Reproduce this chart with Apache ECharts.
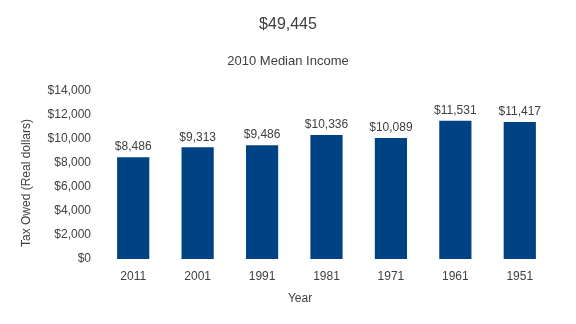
<!DOCTYPE html>
<html>
<head>
<meta charset="utf-8">
<script src="https://cdn.jsdelivr.net/npm/echarts@6/dist/echarts.min.js"></script>
<style>
  html, body { margin: 0; padding: 0; background: #fff; }
  #chart { width: 576px; height: 324px; }
</style>
</head>
<body>
<div id="chart"></div>
<script>
// Tax owed on the 2010 median income under each decade's tax code
const years = ['2011', '2001', '1991', '1981', '1971', '1961', '1951'];
const taxOwed = [8486, 9313, 9486, 10336, 10089, 11531, 11417];
const yTicks = [0, 2000, 4000, 6000, 8000, 10000, 12000, 14000];

const fmtDollars = v => '$' + Math.round(v).toLocaleString('en-US');
const FONT = '"Liberation Sans", Arial, sans-serif';

const chart = echarts.init(document.getElementById('chart'));
chart.setOption({
  animation: false,
  textStyle: { fontFamily: FONT },
  title: [
    { text: '$49,445', left: 'center', top: 12,
      textStyle: { fontFamily: FONT, fontSize: 16, fontWeight: 'normal', color: '#404040' } },
    { text: '2010 Median Income', left: 'center', top: 50,
      textStyle: { fontFamily: FONT, fontSize: 13, fontWeight: 'normal', color: '#404040' } }
  ],
  grid: { left: 101, right: 24, top: 91, bottom: 65 },
  xAxis: {
    type: 'category',
    data: years,
    axisLine: { show: false },
    axisTick: { show: false },
    axisLabel: { color: '#404040', fontSize: 12, margin: 12, fontFamily: FONT }
  },
  yAxis: {
    type: 'value',
    min: yTicks[0],
    max: yTicks[yTicks.length - 1],
    interval: yTicks[1] - yTicks[0],
    splitLine: { show: false },
    axisLine: { show: false },
    axisTick: { show: false },
    axisLabel: { color: '#404040', fontSize: 12, margin: 10, fontFamily: FONT, formatter: fmtDollars }
  },
  graphic: [
    {
      type: 'text',
      x: 27, y: 183,
      rotation: Math.PI / 2,
      style: {
        text: 'Tax Owed (Real dollars)', fill: '#404040', fontSize: 12, fontFamily: FONT,
        align: 'center', verticalAlign: 'middle'
      }
    },
    {
      type: 'text',
      x: 300, y: 299,
      style: {
        text: 'Year', fill: '#404040', fontSize: 12, fontFamily: FONT,
        align: 'center', verticalAlign: 'middle'
      }
    }
  ],
  series: [{
    type: 'bar',
    data: taxOwed,
    barWidth: '50%',
    itemStyle: { color: '#004385' },
    label: {
      show: true,
      position: 'top',
      distance: 4,
      color: '#404040',
      fontSize: 12,
      fontFamily: FONT,
      formatter: p => fmtDollars(p.value)
    }
  }]
});
</script>
</body>
</html>
